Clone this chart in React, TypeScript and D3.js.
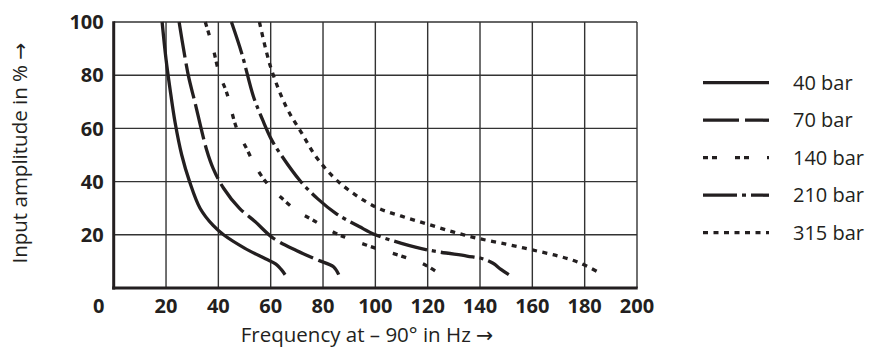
import React from "react";
import * as d3 from "d3";

// readings: [frequency Hz, input amplitude %]
const bar40 = [
  [18.5, 100], [20, 86], [21.5, 75], [23.5, 62], [26, 50], [29, 40], [33, 30],
  [38, 23.5], [42, 20], [50, 15], [58, 11], [62, 9], [64, 7], [65.5, 5],
];
const bar70 = [
  [25, 100], [28.5, 80], [31, 70], [35.5, 52], [38, 45], [42, 37.5], [48, 30],
  [54, 25], [61, 18.7], [70, 14], [78, 10.5], [84, 8], [86, 5],
];
const bar140 = [
  [35, 100], [38, 90], [40.5, 80], [43, 74], [47, 60], [51, 52], [54, 46],
  [58.5, 39.5], [64, 34], [70, 29], [76, 25.6], [85, 20.5], [90, 18.5],
  [100, 15], [110, 12], [118, 9.2], [123.5, 6],
];
const bar210 = [
  [45, 100], [49, 88], [53.4, 72], [57, 63], [60.4, 55.6], [64, 50], [71, 40.6],
  [78, 33.5], [85, 28], [94, 23], [100, 20], [110, 16.8], [120, 14.3],
  [135, 12], [141, 11], [145, 9.3], [148, 7], [151, 5],
];
const bar315 = [
  [55.7, 100], [60, 83], [66, 68], [72, 58], [77.6, 49], [86.5, 39.4],
  [100, 30.5], [110, 27], [120, 24], [130, 21], [139, 18.7], [150, 16.5],
  [160, 14.3], [170, 12], [178, 9.5], [186, 5.5],
];

const seriesNames = ["40 bar", "70 bar", "140 bar", "210 bar", "315 bar"];
const seriesData = [bar40, bar70, bar140, bar210, bar315];
const dashes = ["none", "36,6", "5,4,5,18", "34,5,4,5", "5,5.5"];

const xTicks = [0, 20, 40, 60, 80, 100, 120, 140, 160, 180, 200];
const yTicks = [20, 40, 60, 80, 100];

const W = 873;
const H = 351;
const margin = { top: 22, right: 236, bottom: 63, left: 113.7 };
const ink = "#231f20";

export default function App() {
  const x = d3.scaleLinear().domain([0, 200]).range([margin.left, W - margin.right]);
  const y = d3.scaleLinear().domain([0, 100]).range([H - margin.bottom, margin.top]);

  const line = d3
    .line<number[]>()
    .x((d) => x(d[0]))
    .y((d) => y(d[1]))
    .curve(d3.curveCatmullRom.alpha(0.5));

  const legendX0 = 703;
  const legendX1 = 769;
  const legendY = d3.scalePoint<string>().domain(seriesNames).range([82.7, 232.7]);

  return (
    <svg
      width={W}
      height={H}
      style={{ position: "absolute", left: 0, top: 0, background: "white" }}
      fontFamily="'Open Sans', 'Noto Sans', sans-serif"
    >
      {/* grid */}
      {xTicks.slice(1).map((t) => (
        <line key={"gx" + t} x1={x(t)} x2={x(t)} y1={y(0)} y2={y(100)} stroke="#333" strokeWidth={1.4} />
      ))}
      {yTicks.map((t) => (
        <line key={"gy" + t} x1={x(0)} x2={x(200)} y1={y(t)} y2={y(t)} stroke="#333" strokeWidth={1.4} />
      ))}
      {/* axes */}
      <line x1={x(0)} x2={x(0)} y1={y(100) - 0.7} y2={y(0) + 1.5} stroke={ink} strokeWidth={3} />
      <line x1={x(0) - 1.5} x2={x(200) + 0.7} y1={y(0)} y2={y(0)} stroke={ink} strokeWidth={3} />

      {/* tick labels */}
      {yTicks.map((t) => (
        <text key={"ty" + t} x={x(0) - 10} y={y(t)} dy="0.36em" textAnchor="end" fontSize={20} fontWeight={700} fill={ink}>
          {t}
        </text>
      ))}
      {xTicks.map((t) => (
        <text key={"tx" + t} x={t === 0 ? x(0) - 15 : x(t)} y={313} textAnchor="middle" fontSize={20} fontWeight={700} fill={ink}>
          {t}
        </text>
      ))}

      {/* curves */}
      {seriesData.map((s, i) => (
        <path
          key={seriesNames[i]}
          d={line(s) ?? ""}
          fill="none"
          stroke={ink}
          strokeWidth={3.3}
          strokeDasharray={dashes[i]}
        />
      ))}

      {/* legend */}
      {seriesNames.map((n, i) => (
        <g key={"lg" + n}>
          <line
            x1={legendX0}
            x2={legendX1}
            y1={legendY(n)}
            y2={legendY(n)}
            stroke={ink}
            strokeWidth={3.3}
            strokeDasharray={dashes[i]}
          />
          <text x={793} y={legendY(n)} dy="0.36em" fontSize={20} fill={ink}>
            {n}
          </text>
        </g>
      ))}

      {/* axis titles */}
      <text x={367} y={342} textAnchor="middle" fontSize={20.5} fill={ink}>
        Frequency at – 90° in Hz <tspan fontFamily="'DejaVu Sans'">→</tspan>
      </text>
      <text transform="translate(27,153) rotate(-90)" textAnchor="middle" fontSize={20.5} fill={ink}>
        Input amplitude in % <tspan fontFamily="'DejaVu Sans'">→</tspan>
      </text>
    </svg>
  );
}
